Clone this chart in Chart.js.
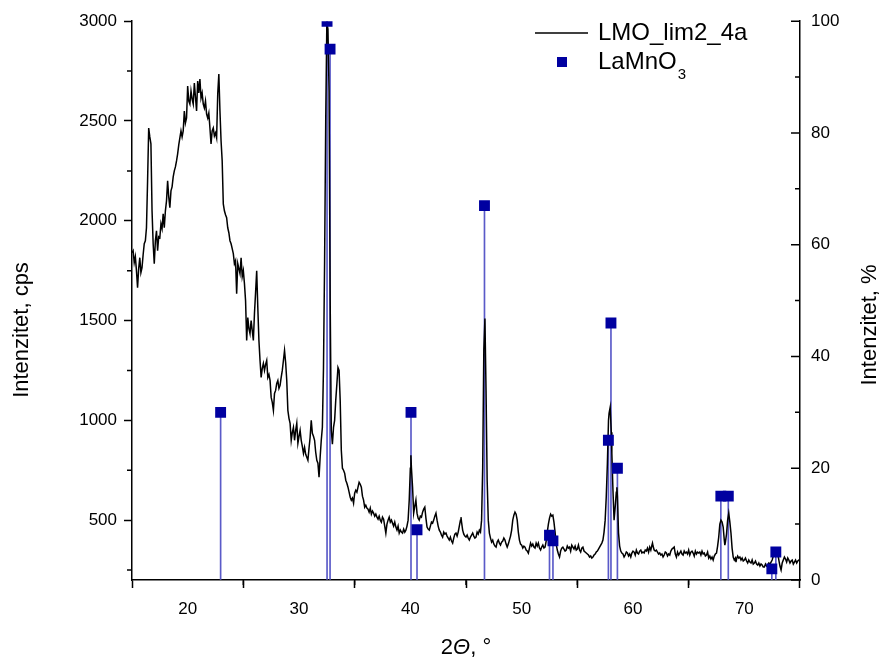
<!DOCTYPE html>
<html>
<head>
<meta charset="utf-8">
<script src="https://cdn.jsdelivr.net/npm/chart.js@4.4.1/dist/chart.umd.min.js"></script>
<style>
  html, body { margin: 0; padding: 0; background: #fff; }
  #wrap { width: 883px; height: 662px; }
</style>
</head>
<body>
<div id="wrap"><canvas id="xrd" width="883" height="662"></canvas></div>
<script>
// ── data ──────────────────────────────────────────────────────────────────
// measured scan: [2theta, cps]
const scanData = [
  [15.0,1840],[15.1,1850],[15.2,1790],[15.3,1820],[15.4,1750],[15.5,1665],[15.6,1760],[15.7,1815],[15.8,1740],[15.9,1765],
  [16.0,1830],[16.1,1885],[16.2,1900],[16.3,1965],[16.4,2200],[16.5,2465],[16.6,2420],[16.7,2385],[16.8,2050],[16.9,1885],
  [17.0,1785],[17.1,1900],[17.2,1950],[17.3,1850],[17.4,1920],[17.5,1915],[17.6,1985],[17.7,1960],[17.8,2035],[17.9,1965],
  [18.0,2050],[18.1,2100],[18.2,2200],[18.3,2120],[18.4,2065],[18.5,2150],[18.6,2170],[18.7,2220],[18.8,2250],[18.9,2270],
  [19.0,2300],[19.1,2335],[19.2,2380],[19.3,2415],[19.4,2450],[19.5,2420],[19.6,2450],[19.7,2550],[19.8,2490],[19.9,2515],
  [20.0,2675],[20.1,2600],[20.2,2585],[20.3,2650],[20.4,2610],[20.5,2585],[20.6,2690],[20.7,2620],[20.8,2550],[20.9,2700],
  [21.0,2640],[21.1,2710],[21.2,2615],[21.3,2640],[21.4,2585],[21.5,2565],[21.6,2600],[21.7,2535],[21.8,2515],[21.9,2540],
  [22.0,2465],[22.1,2385],[22.2,2450],[22.3,2465],[22.4,2425],[22.5,2440],[22.6,2415],[22.7,2635],[22.8,2735],[22.9,2550],
  [23.0,2400],[23.1,2300],[23.2,2085],[23.3,2050],[23.4,2030],[23.5,2015],[23.6,1965],[23.7,1940],[23.8,1900],[23.9,1885],
  [24.0,1860],[24.1,1835],[24.2,1785],[24.3,1800],[24.4,1635],[24.5,1785],[24.6,1760],[24.7,1735],[24.8,1815],[24.9,1720],
  [25.0,1750],[25.1,1685],[25.2,1600],[25.3,1400],[25.4,1515],[25.5,1460],[25.6,1435],[25.7,1500],[25.8,1450],[25.9,1400],
  [26.0,1535],[26.1,1640],[26.2,1750],[26.3,1565],[26.4,1400],[26.5,1300],[26.6,1215],[26.7,1260],[26.8,1285],[26.9,1250],
  [27.0,1280],[27.1,1300],[27.2,1215],[27.3,1230],[27.4,1200],[27.5,1115],[27.6,1090],[27.7,1050],[27.8,1135],[27.9,1150],
  [28.0,1185],[28.1,1200],[28.2,1160],[28.3,1175],[28.4,1215],[28.5,1250],[28.6,1300],[28.7,1350],[28.8,1290],[28.9,1200],
  [29.0,1050],[29.1,1010],[29.2,985],[29.3,900],[29.4,940],[29.5,965],[29.6,900],[29.7,950],[29.8,985],[29.9,885],
  [30.0,920],[30.1,950],[30.2,900],[30.3,870],[30.4,835],[30.5,865],[30.6,830],[30.7,815],[30.8,800],[30.9,860],
  [31.0,915],[31.1,1000],[31.2,935],[31.3,920],[31.4,900],[31.5,840],[31.6,800],[31.7,785],[31.8,715],[31.9,815],
  [32.0,900],[32.1,965],[32.2,1265],[32.3,1800],[32.4,2500],[32.5,2990],[32.6,2960],[32.7,2650],[32.8,1600],[32.9,950],
  [33.0,880],[33.1,965],[33.2,1000],[33.3,1100],[33.4,1180],[33.5,1265],[33.6,1250],[33.7,1100],[33.8,850],[33.9,760],
  [34.0,750],[34.1,735],[34.2,700],[34.3,685],[34.4,665],[34.5,640],[34.6,615],[34.7,600],[34.8,610],[34.9,585],
  [35.0,635],[35.1,650],[35.2,640],[35.3,665],[35.4,690],[35.5,680],[35.6,665],[35.7,620],[35.8,600],[35.9,565],
  [36.0,575],[36.1,560],[36.2,555],[36.3,540],[36.4,560],[36.5,530],[36.6,545],[36.7,535],[36.8,520],[36.9,530],
  [37.0,515],[37.1,505],[37.2,520],[37.3,500],[37.4,490],[37.5,515],[37.6,505],[37.7,470],[37.8,435],[37.9,480],
  [38.0,500],[38.1,515],[38.2,490],[38.3,500],[38.4,485],[38.5,470],[38.6,490],[38.7,465],[38.8,450],[38.9,470],
  [39.0,435],[39.1,450],[39.2,440],[39.3,435],[39.4,455],[39.5,440],[39.6,450],[39.7,470],[39.8,500],[39.9,600],
  [40.0,760],[40.05,825],[40.1,760],[40.2,665],[40.3,535],[40.4,570],[40.5,600],[40.6,535],[40.7,510],[40.8,500],[40.9,520],
  [41.0,515],[41.1,540],[41.2,555],[41.3,565],[41.4,510],[41.5,465],[41.6,455],[41.7,450],[41.8,470],[41.9,490],
  [42.0,485],[42.1,500],[42.2,520],[42.3,535],[42.4,500],[42.5,470],[42.6,450],[42.7,440],[42.8,425],[42.9,415],
  [43.0,440],[43.1,430],[43.2,435],[43.3,420],[43.4,410],[43.5,400],[43.6,415],[43.7,395],[43.8,385],[43.9,410],
  [44.0,430],[44.1,435],[44.2,420],[44.3,440],[44.4,470],[44.5,500],[44.55,515],[44.6,490],[44.7,450],[44.8,430],[44.9,420],
  [45.0,415],[45.1,425],[45.2,410],[45.3,400],[45.4,415],[45.5,425],[45.6,435],[45.7,420],[45.8,410],[45.9,415],
  [46.0,440],[46.1,430],[46.2,450],[46.3,440],[46.4,500],[46.5,765],[46.6,1350],[46.7,1510],[46.8,1150],[46.9,700],
  [47.0,500],[47.1,435],[47.2,410],[47.3,390],[47.4,400],[47.5,380],[47.6,370],[47.7,365],[47.8,390],[47.9,400],
  [48.0,385],[48.1,375],[48.2,390],[48.3,395],[48.4,410],[48.5,400],[48.6,380],[48.7,365],[48.8,380],[48.9,400],
  [49.0,420],[49.1,450],[49.2,500],[49.3,525],[49.4,540],[49.5,530],[49.6,500],[49.7,440],[49.8,400],[49.9,380],
  [50.0,375],[50.1,360],[50.2,370],[50.3,365],[50.4,350],[50.5,345],[50.6,335],[50.7,360],[50.8,385],[50.9,370],
  [51.0,380],[51.1,365],[51.2,360],[51.3,385],[51.4,370],[51.5,385],[51.6,360],[51.7,350],[51.8,365],[51.9,375],
  [52.0,360],[52.1,365],[52.2,395],[52.3,440],[52.4,480],[52.5,510],[52.6,530],[52.7,520],[52.8,525],[52.9,490],
  [53.0,440],[53.1,380],[53.2,350],[53.3,330],[53.4,315],[53.5,345],[53.6,360],[53.7,365],[53.8,355],[53.9,345],
  [54.0,350],[54.1,370],[54.2,360],[54.3,365],[54.4,345],[54.5,375],[54.6,365],[54.7,355],[54.8,370],[54.9,350],
  [55.0,355],[55.1,375],[55.2,350],[55.3,340],[55.4,360],[55.5,365],[55.6,345],[55.7,340],[55.8,335],[55.9,330],
  [56.0,325],[56.1,315],[56.2,320],[56.3,310],[56.4,315],[56.5,325],[56.6,330],[56.7,340],[56.8,345],[56.9,355],
  [57.0,365],[57.1,375],[57.2,385],[57.3,400],[57.4,440],[57.5,500],[57.6,620],[57.7,785],[57.8,1000],[57.85,1035],
  [57.95,1065],[58.05,940],[58.1,835],[58.2,650],[58.3,500],[58.4,565],[58.5,640],[58.55,665],[58.6,620],[58.7,435],
  [58.8,370],[58.9,345],[59.0,335],[59.1,330],[59.2,315],[59.3,325],[59.4,340],[59.5,335],[59.6,320],[59.7,330],
  [59.8,315],[59.9,335],[60.0,345],[60.1,340],[60.2,325],[60.3,350],[60.4,335],[60.5,330],[60.6,345],[60.7,350],
  [60.8,335],[60.9,340],[61.0,335],[61.1,350],[61.2,345],[61.3,360],[61.4,340],[61.5,365],[61.6,350],[61.7,375],
  [61.75,385],[61.8,370],[61.9,350],[62.0,345],[62.1,350],[62.2,340],[62.3,330],[62.4,335],[62.5,325],[62.6,330],
  [62.7,315],[62.8,325],[62.9,340],[63.0,335],[63.1,320],[63.2,330],[63.3,325],[63.4,345],[63.5,355],[63.6,360],
  [63.7,365],[63.8,330],[63.9,315],[64.0,340],[64.1,325],[64.2,335],[64.3,345],[64.4,330],[64.5,325],[64.6,345],
  [64.7,335],[64.8,340],[64.9,330],[65.0,350],[65.1,325],[65.2,340],[65.3,345],[65.4,335],[65.5,320],[65.6,345],
  [65.7,330],[65.8,340],[65.9,335],[66.0,340],[66.1,325],[66.2,345],[66.3,330],[66.4,335],[66.5,320],[66.6,325],
  [66.7,340],[66.8,310],[66.9,320],[67.0,305],[67.1,315],[67.2,300],[67.3,320],[67.4,330],[67.5,335],[67.6,370],
  [67.7,415],[67.8,480],[67.9,500],[68.0,490],[68.1,465],[68.2,400],[68.25,375],[68.3,390],[68.4,430],[68.5,500],
  [68.6,535],[68.7,490],[68.8,435],[68.9,360],[69.0,315],[69.1,300],[69.2,310],[69.25,290],[69.3,305],[69.4,320],
  [69.5,310],[69.6,315],[69.7,300],[69.8,310],[69.9,295],[70.0,300],[70.1,310],[70.2,295],[70.3,285],[70.4,300],
  [70.5,290],[70.6,285],[70.7,300],[70.8,280],[70.9,285],[71.0,295],[71.1,280],[71.2,275],[71.3,285],[71.4,270],
  [71.5,280],[71.6,275],[71.7,265],[71.8,265],[71.9,280],[72.0,270],[72.1,275],[72.2,285],[72.3,280],[72.4,290],
  [72.5,300],[72.6,320],[72.7,335],[72.8,320],[72.9,330],[73.0,335],[73.1,300],[73.2,270],[73.3,250],[73.4,285],
  [73.5,300],[73.6,315],[73.7,305],[73.8,290],[73.9,310],[74.0,300],[74.1,285],[74.2,295],[74.3,300],[74.4,280],
  [74.5,290],[74.6,300],[74.7,285],[74.8,295],[74.9,300],[75.0,300]
];

// LaMnO3 reference lines
const refAngles    = [22.96, 32.52, 32.79, 40.06, 40.60, 46.66, 52.50, 52.81, 57.79, 58.02, 58.60, 67.89, 68.56, 72.47, 72.83];
const refIntensity = [30, 100, 95, 30, 9, 67, 8, 7, 25, 46, 20, 15, 15, 2, 5];

// axis ticks
const xMajorTicks   = [20, 30, 40, 50, 60, 70];
const xMinorTicks   = [25, 35, 45, 55, 65];
const cpsMajorTicks = [500, 1000, 1500, 2000, 2500, 3000];
const cpsMinorTicks = [250, 750, 1250, 1750, 2250, 2750];
const pctMajorTicks = [0, 20, 40, 60, 80, 100];
const pctMinorTicks = [10, 30, 50, 70, 90];

const FONT = '"Liberation Sans", Arial, sans-serif';
const MARKER = "#0000a0";
const STEM = "#5a5ac8";

// ── extra drawing: minor / inward ticks, axis titles, legend ─────────────

const decorations = {
  id: "decorations",
  afterDraw(chart) {
    const { ctx, chartArea: a } = chart;
    const { x, y, y2 } = chart.scales;
    ctx.save();

    // ticks not drawn by chart.js
    ctx.strokeStyle = "#000";
    ctx.lineWidth = 1.5;
    ctx.beginPath();
    xMinorTicks.forEach((v) => {
      const px = x.getPixelForValue(v);
      ctx.moveTo(px, a.bottom);
      ctx.lineTo(px, a.bottom + 5);
    });
    cpsMinorTicks.forEach((v) => {
      const py = y.getPixelForValue(v);
      ctx.moveTo(a.left, py);
      ctx.lineTo(a.left - 5, py);
    });
    pctMajorTicks.forEach((v) => {
      const py = y2.getPixelForValue(v);
      ctx.moveTo(a.right, py);
      ctx.lineTo(a.right - 9, py);
    });
    pctMinorTicks.forEach((v) => {
      const py = y2.getPixelForValue(v);
      ctx.moveTo(a.right, py);
      ctx.lineTo(a.right - 5, py);
    });
    ctx.stroke();

    // axis titles
    ctx.fillStyle = "#000";
    ctx.textAlign = "center";
    ctx.textBaseline = "middle";
    ctx.font = `22px ${FONT}`;

    ctx.save();
    ctx.translate(22, 330);
    ctx.rotate(-Math.PI / 2);
    ctx.fillText("Intenzitet, cps", 0, 0);
    ctx.restore();

    ctx.save();
    ctx.translate(870, 325);
    ctx.rotate(-Math.PI / 2);
    ctx.fillText("Intenzitet, %", 0, 0);
    ctx.restore();

    // 2Θ, ° with italic theta
    const parts = [
      { t: "2", f: `22px ${FONT}` },
      { t: "\u0398", f: `italic 22px ${FONT}` },
      { t: ", \u00b0", f: `22px ${FONT}` },
    ];
    let total = 0;
    parts.forEach((p) => { ctx.font = p.f; p.w = ctx.measureText(p.t).width; total += p.w; });
    let cx = (a.left + a.right) / 2 - total / 2;
    ctx.textAlign = "left";
    parts.forEach((p) => { ctx.font = p.f; ctx.fillText(p.t, cx, 648); cx += p.w; });

    // legend
    ctx.beginPath();
    ctx.lineWidth = 1.5;
    ctx.moveTo(535, 33);
    ctx.lineTo(588, 33);
    ctx.stroke();
    ctx.font = `24px ${FONT}`;
    ctx.fillText("LMO_lim2_4a", 598, 33);

    ctx.fillStyle = MARKER;
    ctx.fillRect(557, 57, 10, 10);
    ctx.fillStyle = "#000";
    ctx.fillText("LaMnO", 598, 62);
    const w = ctx.measureText("LaMnO").width;
    ctx.font = `15px ${FONT}`;
    ctx.fillText("3", 598 + w + 1, 75);

    ctx.restore();
  },
};

// ── chart ────────────────────────────────────────────────────────────────

const axisGrid = {
  drawOnChartArea: false,
  tickLength: 8,
  tickColor: "#000",
  tickWidth: 1.5,
};
const tickFont = { family: FONT, size: 17 };
const plainLabel = (v) => String(v);

new Chart(document.getElementById("xrd"), {
  type: "scatter",
  data: {
    datasets: [
      {
        label: "LaMnO3 lines",
        type: "bar",
        data: refAngles.map((a, i) => ({ x: a, y: refIntensity[i] })),
        yAxisID: "y2",
        backgroundColor: STEM,
        borderWidth: 0,
        barThickness: 1,
        order: 3,
      },
      {
        label: "LMO_lim2_4a",
        data: scanData.map((p) => ({ x: p[0], y: p[1] })),
        yAxisID: "y",
        showLine: true,
        borderColor: "#000",
        borderWidth: 1.5,
        pointRadius: 0,
        tension: 0,
        order: 2,
      },
      {
        label: "LaMnO3",
        data: refAngles.map((a, i) => ({ x: a, y: refIntensity[i] })),
        yAxisID: "y2",
        pointStyle: "rect",
        pointRadius: 7.7,
        backgroundColor: MARKER,
        borderColor: MARKER,
        borderWidth: 0,
        clip: 0,
        order: 1,
      },
    ],
  },
  options: {
    responsive: false,
    devicePixelRatio: 1,
    animation: false,
    layout: { padding: { top: 20, left: 0, right: 0, bottom: 0 } },
    plugins: { legend: { display: false }, tooltip: { enabled: false } },
    scales: {
      x: {
        type: "linear",
        position: "bottom",
        min: 15,
        max: 75,
        offset: false,
        grid: axisGrid,
        border: { color: "#000", width: 1.5 },
        ticks: { font: tickFont, color: "#000", padding: 11, callback: plainLabel },
        afterBuildTicks: (s) => { s.ticks = xMajorTicks.map((v) => ({ value: v })); },
        afterFit: (s) => { s.height = 82; },
      },
      y: {
        type: "linear",
        position: "left",
        min: 200,
        max: 3000,
        grid: axisGrid,
        border: { color: "#000", width: 1.5 },
        ticks: { font: tickFont, color: "#000", padding: 7, callback: plainLabel },
        afterBuildTicks: (s) => { s.ticks = cpsMajorTicks.map((v) => ({ value: v })); },
        afterFit: (s) => { s.width = 132; },
      },
      y2: {
        type: "linear",
        position: "right",
        min: 0,
        max: 100,
        grid: { drawOnChartArea: false, drawTicks: false },
        border: { color: "#000", width: 1.5 },
        ticks: { font: tickFont, color: "#000", padding: 11, callback: plainLabel },
        afterBuildTicks: (s) => { s.ticks = pctMajorTicks.map((v) => ({ value: v })); },
        afterFit: (s) => { s.width = 83; },
      },
    },
  },
  plugins: [decorations],
});
</script>
</body>
</html>
